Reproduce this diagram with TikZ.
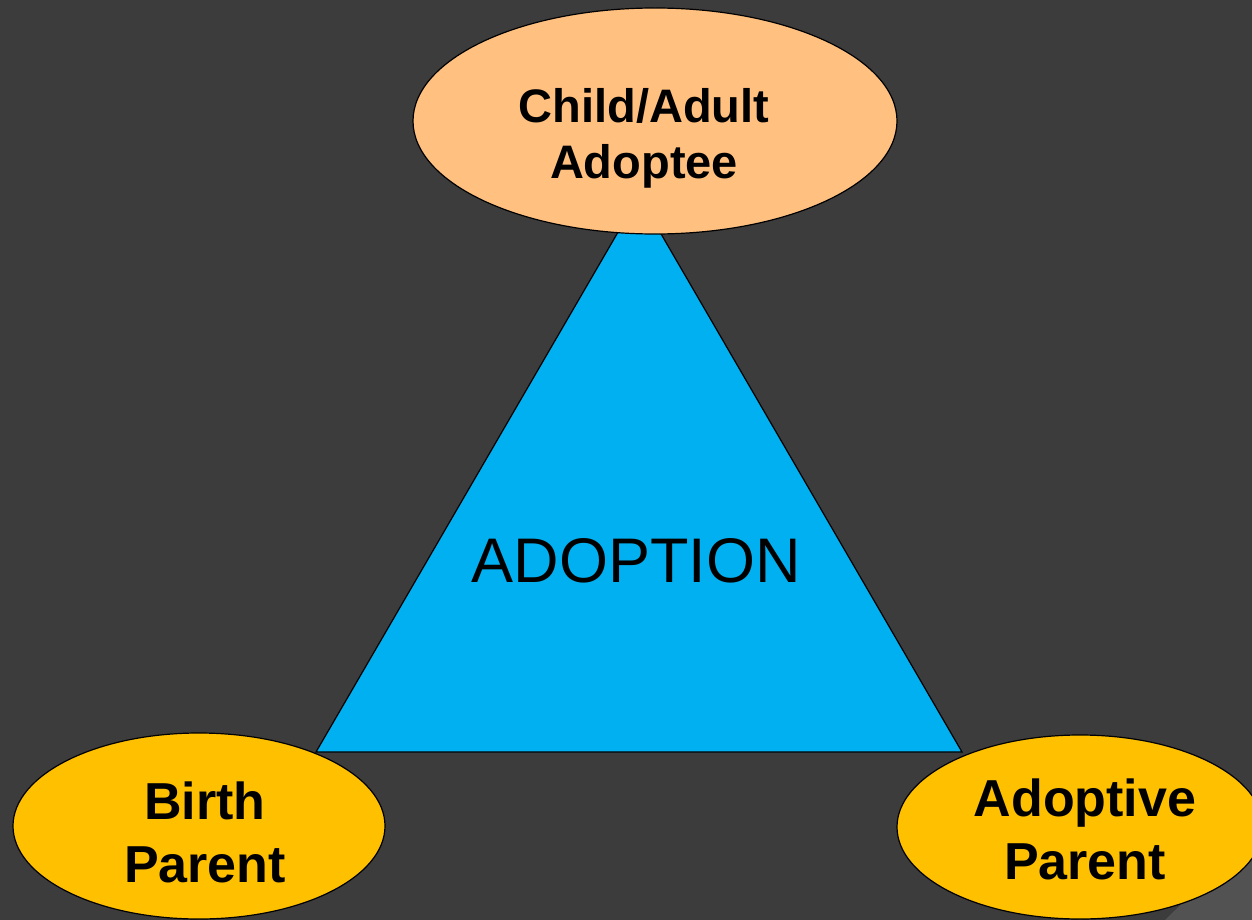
\documentclass[tikz,border=0pt]{standalone}
\usepackage{fontspec}
\setmainfont{Liberation Sans}
\usetikzlibrary{shapes.geometric}
\definecolor{slategrey}{RGB}{60, 60, 60}
\definecolor{cornergrey}{RGB}{82, 82, 82}
\definecolor{adopteeorange}{RGB}{255, 192, 128}
\definecolor{parentgold}{RGB}{255, 192, 0}
\definecolor{adoptionblue}{RGB}{0, 176, 240}

\begin{document}
\begin{tikzpicture}[x=1pt, y=-1pt,
    member/.style={ellipse, draw=black, line width=1.2pt, inner sep=0pt},
    membertext/.style={align=center, font=\fontsize{47}{56}\selectfont\bfseries}]
    % background
    \fill[slategrey] (0,0) rectangle (1252,920);
    \fill[cornergrey] (1252,835) -- (1252,920) -- (1165,920) -- cycle;
    \useasboundingbox (0,0) rectangle (1252,920);

    % the triangle
    \coordinate (apex) at (639,196);
    \coordinate (left) at (316,752);
    \coordinate (right) at (962,752);
    \draw[fill=adoptionblue, line width=1.2pt, line join=miter] (apex) -- (left) -- (right) -- cycle;
    \node (adoption) at (636,561) {\fontsize{63}{70}\selectfont ADOPTION};

    % the three corners
    \node[member, fill=adopteeorange, minimum width=484pt, minimum height=226pt] (adoptee) at (655,121) {};
    \node[membertext] (adopteetext) at (644,138) {Child/Adult\\Adoptee};

    \node[member, fill=parentgold, minimum width=372pt, minimum height=186pt] (birth) at (199,826) {};
    \node[membertext, font=\fontsize{52}{63}\selectfont\bfseries] (birthtext) at (205,832) {Birth\\Parent};

    \node[member, fill=parentgold, minimum width=366pt, minimum height=184pt] (adoptive) at (1080,827) {};
    \node[membertext, font=\fontsize{52}{63}\selectfont\bfseries] (adoptivetext) at (1085,829) {Adoptive\\Parent};
  \end{tikzpicture}
\end{document}
